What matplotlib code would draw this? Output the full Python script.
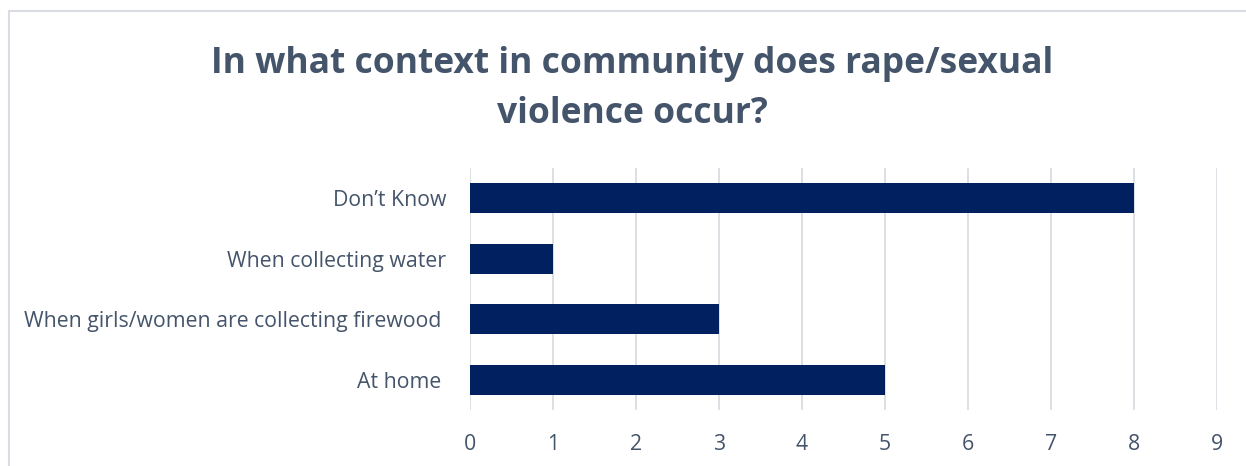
import matplotlib.pyplot as plt
from matplotlib.patches import Rectangle

# survey answers, drawn bottom to top
categories = ["At home ", "When girls/women are collecting firewood ",
              "When collecting water", "Don\u2019t Know"]
counts = [5, 3, 1, 8]
xticks = [0, 1, 2, 3, 4, 5, 6, 7, 8, 9]

TEXT = "#44546A"
BAR = "#002060"
GRID = "#D9DDE3"

plt.rcParams['font.family'] = ['Open Sans', 'DejaVu Sans']

W, H = 1246, 466
fig = plt.figure(figsize=(W / 100, H / 100), dpi=100)

# chart frame, runs off the right and bottom edge
fig.patches.append(Rectangle((9 / W, -0.1), 1.2, 1 - 11 / H + 0.1,
                             transform=fig.transFigure, fill=False,
                             edgecolor=GRID, linewidth=1.5))

ax = fig.add_axes([470 / W, 1 - 410 / H, (1217 - 470) / W, (410 - 168) / H])
ax.barh(range(len(categories)), counts, height=0.5, color=BAR, zorder=3)
ax.set_ylim(-0.5, len(categories) - 0.5)
ax.set_xlim(0, 9)
ax.set_xticks(xticks)
ax.set_yticks(range(len(categories)))
ax.set_yticklabels(categories)
ax.grid(axis='x', color=GRID, linewidth=1.3, zorder=0)
for s in ax.spines.values():
    s.set_visible(False)
ax.tick_params(axis='x', length=0, pad=17, labelsize=15.3, labelcolor=TEXT)
ax.tick_params(axis='y', length=0, pad=17, labelsize=15.3, labelcolor=TEXT)

fig.text(632 / W, 1 - 89 / H, "In what context in community does rape/sexual\nviolence occur?",
         ha='center', va='center', fontsize=25.5, fontweight='bold', color=TEXT,
         linespacing=1.5)

fig.savefig("out.png", dpi=100)
